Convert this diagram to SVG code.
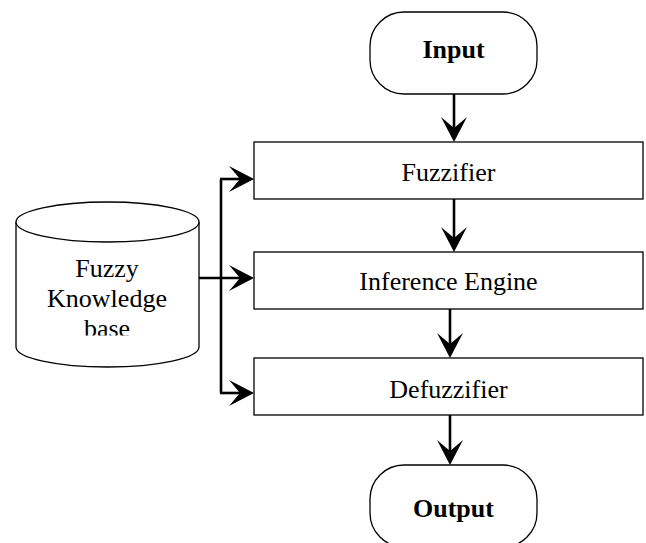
<svg xmlns="http://www.w3.org/2000/svg" width="646" height="543" viewBox="0 0 646 543">
  <style>
    .box { fill: #ffffff; stroke: #000000; stroke-width: 1.3; }
    .lbl { font-family: "Liberation Serif", "Times New Roman", serif; font-size: 26px; fill: #000000; text-anchor: middle; }
    .bold { font-weight: bold; }
    .wire { fill: none; stroke: #000000; stroke-width: 2.6; }
    .arrow { marker-end: url(#ah); }
  </style>
  <defs>
    <marker id="ah" markerUnits="userSpaceOnUse" markerWidth="28" markerHeight="30" viewBox="-27 -15 28 30" refX="-12" refY="0" orient="auto">
      <path d="M0,0 L-25,-13 L-14,0 L-25,13 Z" fill="#000000"/>
    </marker>
    <clipPath id="cylText">
      <rect x="16" y="240" width="183" height="95.5"/>
    </clipPath>
  </defs>

  <rect width="646" height="543" fill="#ffffff"/>

  <!-- process nodes -->
  <g id="input">
    <rect class="box" x="370" y="12" width="167" height="82" rx="34" ry="34"/>
    <text class="lbl bold" x="453.5" y="58">Input</text>
  </g>

  <g id="fuzzifier">
    <rect class="box" x="254" y="142" width="389" height="57"/>
    <text class="lbl" x="448.5" y="181">Fuzzifier</text>
  </g>

  <g id="inference-engine">
    <rect class="box" x="254" y="252" width="389" height="57"/>
    <text class="lbl" x="448.5" y="290">Inference Engine</text>
  </g>

  <g id="defuzzifier">
    <rect class="box" x="254" y="358" width="389" height="57"/>
    <text class="lbl" x="448.5" y="398">Defuzzifier</text>
  </g>

  <g id="output">
    <rect class="box" x="370" y="465" width="167" height="82" rx="34" ry="34"/>
    <text class="lbl bold" x="453.5" y="517">Output</text>
  </g>

  <!-- knowledge base drum -->
  <g id="knowledge-base">
    <path class="box" d="M16,222 L16,347 A91.5,20 0 0 0 199,347 L199,222 A91.5,20 0 0 0 16,222 Z"/>
    <path class="box" fill="none" d="M16,222 A91.5,20 0 0 0 199,222"/>
    <g clip-path="url(#cylText)">
      <text class="lbl" x="107" y="277">Fuzzy</text>
      <text class="lbl" x="107" y="307">Knowledge</text>
      <text class="lbl" x="107" y="337">base</text>
    </g>
  </g>

  <!-- connectors -->
  <g id="connectors">
    <line class="wire arrow" x1="454" y1="94" x2="454" y2="130"/>
    <line class="wire arrow" x1="454" y1="199" x2="454" y2="240"/>
    <line class="wire arrow" x1="450" y1="309" x2="450" y2="346"/>
    <line class="wire arrow" x1="450" y1="415" x2="450" y2="453"/>
    <line class="wire arrow" x1="199" y1="278" x2="242" y2="278"/>
    <line class="wire" x1="221" y1="179" x2="221" y2="393"/>
    <line class="wire arrow" x1="220" y1="179" x2="242" y2="179"/>
    <line class="wire arrow" x1="220" y1="393" x2="242" y2="393"/>
  </g>
</svg>
